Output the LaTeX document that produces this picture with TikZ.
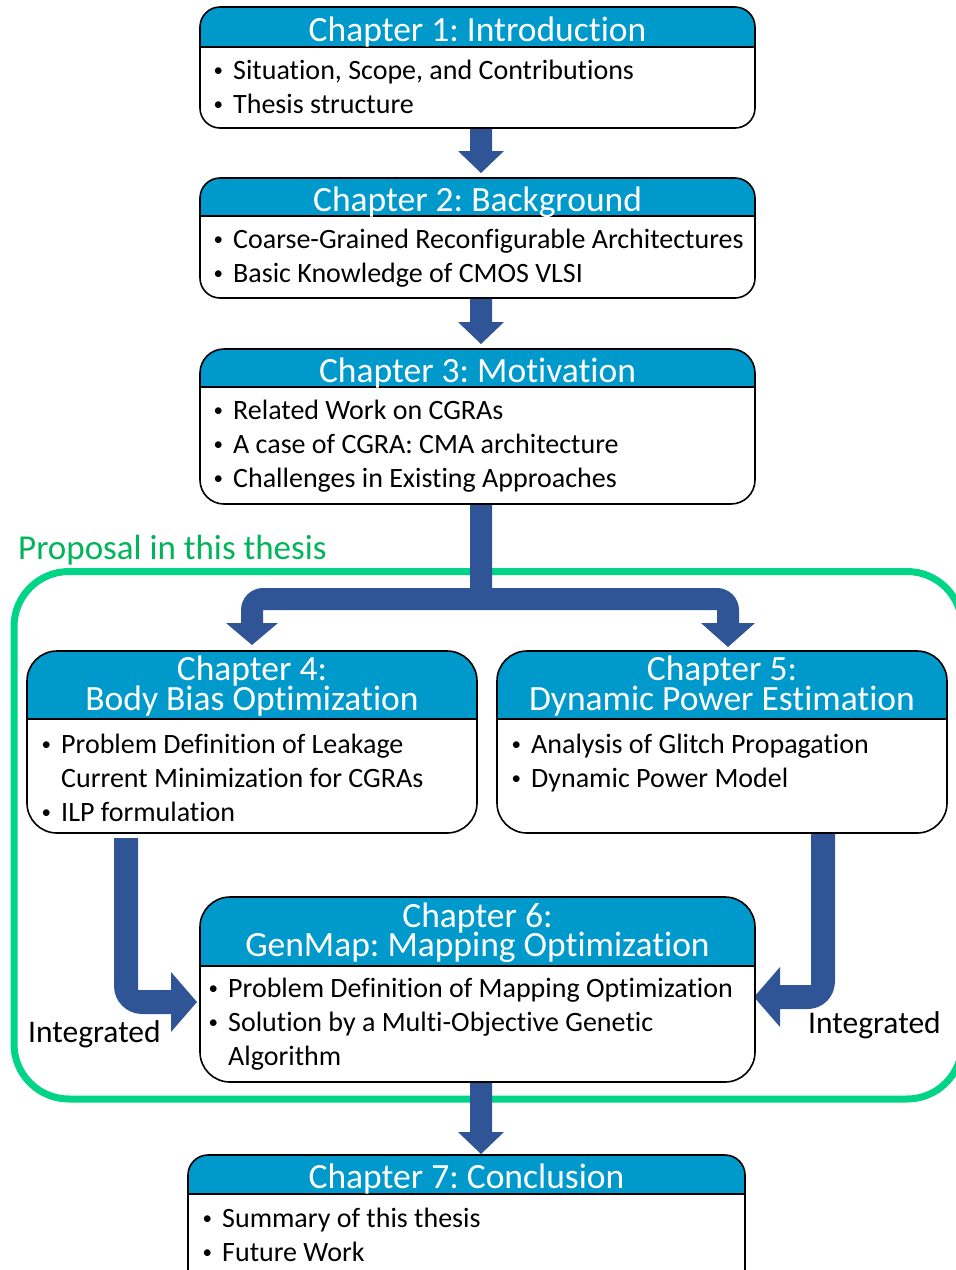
\documentclass[tikz,border=0pt]{standalone}
\usepackage{fontspec}
\setmainfont{Carlito}[Ligatures=CommonOff]
\usetikzlibrary{calc}
\frenchspacing

\definecolor{hdrblue}{RGB}{0,153,204}
\definecolor{arrblue}{RGB}{47,85,151}
\definecolor{propgreen}{RGB}{0,212,134}
\definecolor{proptext}{RGB}{0,180,90}

\newcommand{\ttlsize}{\fontsize{35.5}{30}\selectfont}
\newcommand{\bodysize}{\fontsize{28}{34}\selectfont}
\newcommand{\bul}{\llap{\raisebox{2.6pt}{\fontsize{19}{19}\selectfont\textbullet}\hspace{10pt}}}

\tikzset{
  chframe/.style={rectangle, inner sep=0pt, outer sep=0pt},
  boxline/.style={line width=1.6pt, black},
  chtitle/.style={text=white, font=\ttlsize, inner sep=0pt, anchor=base},
  chtitleA/.style={chtitle, text depth=0pt},
  chtitleB/.style={chtitle, text height=22pt},
  chbody/.style={font=\bodysize, inner sep=0pt, anchor=base west},
  blockarrow/.style={fill=arrblue},
  propframe/.style={rectangle, draw=propgreen, line width=7pt, rounded corners=55pt, inner sep=0pt},
  sidelabel/.style={font=\fontsize{31.5}{34}\selectfont, inner sep=0pt, anchor=base west},
}

% chapter box: name, left, top, right, bottom, header height, corner radius
\newcommand{\chbox}[7]{%
  \node[chframe, minimum width={(#4-#2)*1pt}, minimum height={(#5-#3)*1pt}] (#1) at ({(#2+#4)/2},{(#3+#5)/2}) {};
  \fill[white, rounded corners=#7pt] (#1.north west) rectangle (#1.south east);
  \begin{scope}
    \clip[rounded corners=#7pt] (#1.north west) rectangle (#1.south east);
    \fill[hdrblue] (#1.north west) rectangle ($(#1.north east)+(0,#6)$);
  \end{scope}
  \draw[boxline] ($(#1.north west)+(0,#6)$) -- ($(#1.north east)+(0,#6)$);
  \draw[boxline, rounded corners=#7pt] (#1.north west) rectangle (#1.south east);
}

% straight block arrow: source, target, x offset, gap before target
\newcommand{\vlink}[4]{%
  \coordinate (vs) at ($(#1.south)+(#3,0)$);
  \coordinate (vt) at (vs |- #2.north);
  \fill[blockarrow] ($(vs)+(-11,0)$) -- ($(vt)+(-11,-22-#4)$) -- ($(vt)+(-23,-22-#4)$)
    -- ($(vt)+(0,-#4)$) -- ($(vt)+(23,-22-#4)$) -- ($(vt)+(11,-22-#4)$) -- ($(vs)+(11,0)$) -- cycle;
}

\begin{document}
\begin{tikzpicture}[x=1pt, y=-1pt]
\useasboundingbox (0,0) rectangle (956,1270);
\clip (0,0) rectangle (956,1270);

% proposal frame (its right side runs off the page)
\node[propframe, minimum width=948pt, minimum height=527.5pt] (prop) at (488,835.25) {};
\node[font=\fontsize{35}{40}\selectfont, text=proptext, inner sep=0pt, anchor=base west] (proplbl) at (18,559) {Proposal in this thesis};

% box frames are placed first so the connectors can refer to them
\node[chframe, minimum width=555pt, minimum height=121pt] (c1) at (477.5,67.5) {};
\node[chframe, minimum width=555pt, minimum height=120pt] (c2) at (477.5,238) {};
\node[chframe, minimum width=555pt, minimum height=155pt] (c3) at (477.5,426.5) {};
\node[chframe, minimum width=450pt, minimum height=182pt] (c4) at (252,742) {};
\node[chframe, minimum width=450pt, minimum height=182pt] (c5) at (722,742) {};
\node[chframe, minimum width=555pt, minimum height=185pt] (c6) at (477.5,989.5) {};
\node[chframe, minimum width=557pt, minimum height=135pt] (c7) at (466.5,1222.5) {};

% connectors
\vlink{c1}{c2}{3.5}{5}
\vlink{c2}{c3}{3.5}{5}
\vlink{c6}{c7}{3.5}{1}

% split from chapter 3 to chapters 4 and 5
\coordinate (sp) at ($(c3.south)+(3.5,0)$);
\coordinate (t4) at ($(c4.north)+(0,-6)$);
\coordinate (t5) at ($(c5.north)+(6,-4)$);
\coordinate (bar) at ($(sp)+(0,84)$);
\coordinate (bl) at (t4 |- bar);
\coordinate (br) at (t5 |- bar);
\fill[blockarrow] ($(sp)+(-11,0)$) -- ($(bar)+(-11,0)$) -- ($(bl)+(11,0)$)
  .. controls ($(bl)+(-1.1,0)$) and ($(bl)+(-11,9.9)$) .. ($(bl)+(-11,22)$)
  -- ($(t4)+(-11,-22)$) -- ($(t4)+(-26,-22)$) -- (t4) -- ($(t4)+(26,-22)$) -- ($(t4)+(11,-22)$)
  -- ($(bl)+(11,22)$) -- ($(br)+(-11,22)$)
  -- ($(t5)+(-11,-24)$) -- ($(t5)+(-27,-24)$) -- (t5) -- ($(t5)+(27,-24)$) -- ($(t5)+(11,-24)$)
  -- ($(br)+(11,22)$) .. controls ($(br)+(11,9.9)$) and ($(br)+(1.1,0)$) .. ($(br)+(-11,0)$)
  -- ($(bar)+(11,0)$) -- ($(sp)+(11,0)$) -- cycle;

% chapter 4 into chapter 6
\coordinate (L0) at ($(c4.south west)+(99,5)$);
\coordinate (L1) at ($(c6.west)+(-3,12.5)$);
\coordinate (Lc) at (L0 |- L1);
\fill[blockarrow] ($(L0)+(-12,0)$) -- ($(L0)+(12,0)$) -- ($(Lc)+(12,-12)$)
  -- ($(L1)+(-26,-12)$) -- ($(L1)+(-26,-30)$) -- (L1) -- ($(L1)+(-26,30)$) -- ($(L1)+(-26,12)$)
  -- ($(Lc)+(16,12)$) .. controls ($(Lc)+(0.6,12)$) and ($(Lc)+(-12,-0.6)$) .. ($(Lc)+(-12,-16)$) -- cycle;

% chapter 5 into chapter 6
\coordinate (R0) at ($(c5.south west)+(326,0)$);
\coordinate (R1) at ($(c6.east)+(-1,7.5)$);
\coordinate (Rc) at (R0 |- R1);
\fill[blockarrow] ($(R0)+(-12,0)$) -- ($(R0)+(12,0)$) -- ($(Rc)+(12,-16)$)
  .. controls ($(Rc)+(12,-0.6)$) and ($(Rc)+(0.6,12)$) .. ($(Rc)+(-16,12)$)
  -- ($(R1)+(26,12)$) -- ($(R1)+(26,30)$) -- (R1) -- ($(R1)+(26,-30)$) -- ($(R1)+(26,-12)$)
  -- ($(Rc)+(-12,-12)$) -- cycle;

\node[sidelabel] (intl) at (28,1042) {Integrated};
\node[sidelabel] (intr) at (808,1033) {Integrated};

% chapter boxes
\chbox{c1}{200}{7}{755}{128}{40}{20}
\chbox{c2}{200}{178}{755}{298}{38}{20}
\chbox{c3}{200}{349}{755}{504}{38}{24}
\chbox{c4}{27}{651}{477}{833}{68}{30}
\chbox{c5}{497}{651}{947}{833}{68}{30}
\chbox{c6}{200}{897}{755}{1082}{69}{30}
\chbox{c7}{188}{1155}{745}{1290}{39}{20}

% titles
\node[chtitle] (c1t) at ($(c1.north)+(0,34)$) {Chapter 1: Introduction};
\node[chtitle] (c2t) at ($(c2.north)+(0,33)$) {Chapter 2: Background};
\node[chtitle] (c3t) at ($(c3.north)+(0,33)$) {Chapter 3: Motivation};
\node[chtitleA] (c4t) at ($(c4.north)+(0,29)$) {Chapter 4:};
\node[chtitleB] (c4s) at ($(c4.north)+(0,59)$) {Body Bias Optimization};
\node[chtitleA] (c5t) at ($(c5.north)+(0,29)$) {Chapter 5:};
\node[chtitleB] (c5s) at ($(c5.north)+(0,59)$) {Dynamic Power Estimation};
\node[chtitleA] (c6t) at ($(c6.north)+(0,30)$) {Chapter 6:};
\node[chtitleB] (c6s) at ($(c6.north)+(0,59)$) {GenMap: Mapping Optimization};
\node[chtitle] (c7t) at ($(c7.north)+(0,33)$) {Chapter 7: Conclusion};

% bullet lists
\node[chbody] (c1b) at ($(c1.north west)+(33,72)$) {\begin{tabular}[t]{@{}l@{}}
  \bul Situation, Scope, and Contributions\\
  \bul Thesis structure\end{tabular}};
\node[chbody] (c2b) at ($(c2.north west)+(33,70.5)$) {\begin{tabular}[t]{@{}l@{}}
  \bul Coarse-Grained Reconfigurable Architectures\\
  \bul Basic Knowledge of CMOS VLSI\end{tabular}};
\node[chbody] (c3b) at ($(c3.north west)+(33,70.5)$) {\begin{tabular}[t]{@{}l@{}}
  \bul Related Work on CGRAs\\
  \bul A case of CGRA: CMA architecture\\
  \bul Challenges in Existing Approaches\end{tabular}};
\node[chbody] (c4b) at ($(c4.north west)+(34,102)$) {\begin{tabular}[t]{@{}l@{}}
  \bul Problem Definition of Leakage\\
  Current Minimization for CGRAs\\
  \bul ILP formulation\end{tabular}};
\node[chbody] (c5b) at ($(c5.north west)+(34,102)$) {\begin{tabular}[t]{@{}l@{}}
  \bul Analysis of Glitch Propagation\\
  \bul Dynamic Power Model\end{tabular}};
\node[chbody] (c6b) at ($(c6.north west)+(28,100)$) {\begin{tabular}[t]{@{}l@{}}
  \bul Problem Definition of Mapping Optimization\\
  \bul Solution by a Multi-Objective Genetic\\
  Algorithm\end{tabular}};
\node[chbody] (c7b) at ($(c7.north west)+(34,72)$) {\begin{tabular}[t]{@{}l@{}}
  \bul Summary of this thesis\\
  \bul Future Work\end{tabular}};
\end{tikzpicture}
\end{document}
